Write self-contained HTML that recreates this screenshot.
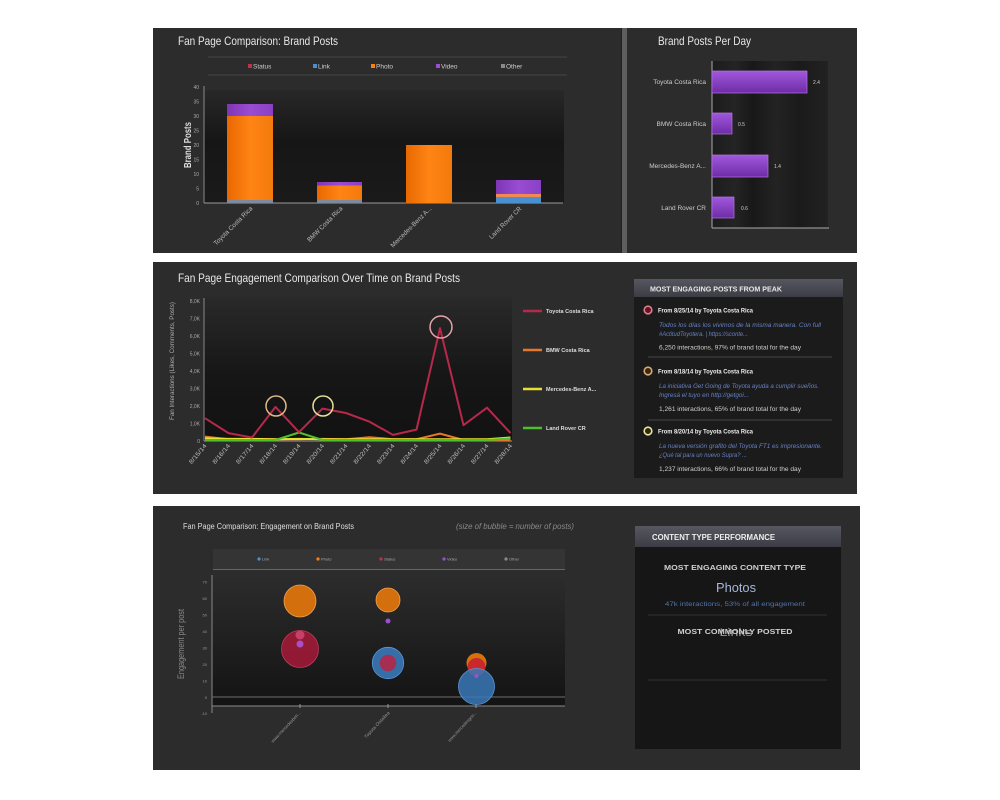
<!DOCTYPE html>
<html><head><meta charset="utf-8"><style>
html,body{margin:0;padding:0;background:#fff;}
svg{display:block;font-family:"Liberation Sans",sans-serif;}
</style></head><body>
<svg width="1000" height="800" viewBox="0 0 1000 800" xmlns="http://www.w3.org/2000/svg">
<defs>
<linearGradient id="plotg" x1="0" y1="0" x2="0" y2="1">
<stop offset="0" stop-color="#282828"/><stop offset="0.45" stop-color="#161616"/><stop offset="1" stop-color="#1a1a1a"/></linearGradient>
<linearGradient id="plotm" x1="0" y1="0" x2="0" y2="1">
<stop offset="0" stop-color="#2a2a2a"/><stop offset="0.55" stop-color="#161616"/><stop offset="1" stop-color="#121212"/></linearGradient>
<linearGradient id="plotb" x1="0" y1="0" x2="0" y2="1">
<stop offset="0" stop-color="#2c2c2c"/><stop offset="1" stop-color="#151515"/></linearGradient>
<linearGradient id="stripes" x1="0" y1="0" x2="1" y2="0">
<stop offset="0" stop-color="#1c1c1c"/><stop offset="0.2" stop-color="#242424"/><stop offset="0.35" stop-color="#181818"/><stop offset="0.55" stop-color="#232323"/><stop offset="0.75" stop-color="#1a1a1a"/><stop offset="1" stop-color="#222"/></linearGradient>
<linearGradient id="org" x1="0" y1="0" x2="1" y2="0">
<stop offset="0" stop-color="#e86800"/><stop offset="0.5" stop-color="#ff8414"/><stop offset="1" stop-color="#f27a0c"/></linearGradient>
<linearGradient id="pur" x1="0" y1="0" x2="1" y2="0">
<stop offset="0" stop-color="#7d36b4"/><stop offset="0.5" stop-color="#9a4cd2"/><stop offset="1" stop-color="#8a40c4"/></linearGradient>
<linearGradient id="purh" x1="0" y1="0" x2="0" y2="1">
<stop offset="0" stop-color="#a058dc"/><stop offset="1" stop-color="#6e2ca6"/></linearGradient>
<linearGradient id="hdr" x1="0" y1="0" x2="0" y2="1">
<stop offset="0" stop-color="#575761"/><stop offset="1" stop-color="#3c3c45"/></linearGradient>
</defs>

<rect width="1000" height="800" fill="#fff"/>

<!-- TOP PANEL -->
<rect x="153" y="28" width="704" height="225" fill="#2c2c2c"/>
<rect x="622" y="28" width="5" height="225" fill="#5e5e5e"/>
<rect x="621" y="28" width="1" height="225" fill="#222"/>

<text x="178" y="45" font-size="12" fill="#e8e8e8" textLength="160" lengthAdjust="spacingAndGlyphs">Fan Page Comparison: Brand Posts</text>
<line x1="208" y1="57" x2="567" y2="57" stroke="#444" stroke-width="1"/>
<line x1="208" y1="75" x2="567" y2="75" stroke="#444" stroke-width="1"/>
<g font-size="6.5" fill="#cfcfcf">
<rect x="248" y="64" width="4" height="4" fill="#c0304a"/><text x="253" y="68.5">Status</text>
<rect x="313" y="64" width="4" height="4" fill="#4a8fd0"/><text x="318" y="68.5">Link</text>
<rect x="371" y="64" width="4" height="4" fill="#ff7f0e"/><text x="376" y="68.5">Photo</text>
<rect x="436" y="64" width="4" height="4" fill="#9b4fd0"/><text x="441" y="68.5">Video</text>
<rect x="501" y="64" width="4" height="4" fill="#8a8a8a"/><text x="506" y="68.5">Other</text>
</g>
<rect x="204" y="90" width="360" height="113" fill="url(#plotg)"/>
<line x1="204" y1="86" x2="204" y2="203" stroke="#8a8a8a"/>
<line x1="204" y1="203" x2="563" y2="203" stroke="#9a9a9a"/>
<g font-size="5" fill="#aaa" text-anchor="end">
<text x="199" y="89">40</text><text x="199" y="103.5">35</text><text x="199" y="118">30</text><text x="199" y="132.5">25</text><text x="199" y="147">20</text><text x="199" y="161.5">15</text><text x="199" y="176">10</text><text x="199" y="190.5">5</text><text x="199" y="205">0</text>
</g>
<text transform="translate(191,145) rotate(-90)" font-size="10" font-weight="bold" fill="#ddd" text-anchor="middle" textLength="46" lengthAdjust="spacingAndGlyphs">Brand Posts</text>
<!-- bars -->
<rect x="227" y="200" width="46" height="3" fill="#7c8a9c"/>
<rect x="227" y="116" width="46" height="84" fill="url(#org)"/>
<rect x="227" y="104" width="46" height="12" fill="url(#pur)"/>
<rect x="317" y="200" width="45" height="3" fill="#7c8a9c"/>
<rect x="317" y="185.5" width="45" height="14.5" fill="url(#org)"/>
<rect x="317" y="182" width="45" height="3.5" fill="url(#pur)"/>
<rect x="406" y="145" width="46" height="58" fill="url(#org)"/>
<rect x="496" y="197" width="45" height="6" fill="#4a8fd0"/>
<rect x="496" y="194" width="45" height="3" fill="#f08a50"/>
<rect x="496" y="180" width="45" height="14" fill="url(#pur)"/>
<g font-size="6.5" fill="#bbb" text-anchor="end">
<text transform="translate(253,209) rotate(-45)" textLength="52" lengthAdjust="spacingAndGlyphs">Toyota Costa Rica</text>
<text transform="translate(343,209) rotate(-45)" textLength="47" lengthAdjust="spacingAndGlyphs">BMW Costa Rica</text>
<text transform="translate(432,209) rotate(-45)" textLength="55" lengthAdjust="spacingAndGlyphs">Mercedes-Benz A...</text>
<text transform="translate(522,209) rotate(-45)" textLength="43" lengthAdjust="spacingAndGlyphs">Land Rover CR</text>
</g>

<!-- top right -->
<text x="658" y="45" font-size="12" fill="#e8e8e8" textLength="93" lengthAdjust="spacingAndGlyphs">Brand Posts Per Day</text>
<rect x="712" y="61" width="116" height="167" fill="url(#stripes)"/>
<line x1="712" y1="61" x2="712" y2="228" stroke="#aaa"/>
<line x1="712" y1="228" x2="829" y2="228" stroke="#aaa"/>
<g fill="url(#purh)" stroke="#b572e6" stroke-width="0.7">
<rect x="712" y="71" width="95" height="22"/>
<rect x="712" y="113" width="20" height="21"/>
<rect x="712" y="155" width="56" height="22"/>
<rect x="712" y="197" width="22" height="21"/>
</g>
<g font-size="5" fill="#ccc">
<text x="813" y="84">2.4</text><text x="738" y="126">0.5</text><text x="774" y="168">1.4</text><text x="741" y="210">0.6</text>
</g>
<g font-size="6.5" fill="#ccc" text-anchor="end">
<text x="706" y="84">Toyota Costa Rica</text>
<text x="706" y="126">BMW Costa Rica</text>
<text x="706" y="168">Mercedes-Benz A...</text>
<text x="706" y="210">Land Rover CR</text>
</g>

<!-- MIDDLE PANEL -->
<rect x="153" y="262" width="704" height="232" fill="#2c2c2c"/>
<text x="178" y="282" font-size="12" fill="#e8e8e8" textLength="282" lengthAdjust="spacingAndGlyphs">Fan Page Engagement Comparison Over Time on Brand Posts</text>
<rect x="204" y="296" width="308" height="145" fill="url(#plotm)"/>
<line x1="204" y1="298" x2="204" y2="441" stroke="#888"/>
<line x1="204" y1="441" x2="512" y2="441" stroke="#999"/>
<g font-size="5" fill="#aaa" text-anchor="end">
<text x="200" y="303">8,0K</text><text x="200" y="320.5">7,0K</text><text x="200" y="338">6,0K</text><text x="200" y="355.5">5,0K</text><text x="200" y="373">4,0K</text><text x="200" y="390.5">3,0K</text><text x="200" y="408">2,0K</text><text x="200" y="425.5">1,0K</text><text x="200" y="443">0</text>
</g>
<text transform="translate(174,361) rotate(-90)" font-size="6.5" fill="#aaa" text-anchor="middle" textLength="118" lengthAdjust="spacingAndGlyphs">Fan Interactions (Likes, Comments, Posts)</text>
<g fill="none" stroke-width="2" stroke-linejoin="round">
<polyline stroke="#e8762a" points="205,436.6 228.5,439.2 252,439.2 275.5,439.2 299,439.2 322.5,438.9 346,439.2 369.5,437.2 393,439.2 416.5,439.2 440,433.6 463.5,440 487,440 510.5,440"/>
<polyline stroke="#e8e030" points="205,438.4 228.5,438.9 252,438.9 275.5,439.2 299,438.9 322.5,439.2 346,439.2 369.5,439.2 393,439.2 416.5,439.2 440,439.2 463.5,439.2 487,439.2 510.5,437.5"/>
<polyline stroke="#4fc02c" points="205,440 228.5,440 252,440 275.5,440 299,432.5 322.5,440 346,440 369.5,440 393,440 416.5,440 440,440 463.5,440 487,440 510.5,438.5"/>
<polyline stroke="#b8284a" points="205,418.2 228.5,433.1 252,437.5 275.5,406.9 299,432.2 322.5,408.6 346,413 369.5,421.7 393,434.9 416.5,429.6 440,328.1 463.5,425.2 487,407.7 510.5,433.1"/>
</g>
<circle cx="276" cy="406" r="10" fill="none" stroke="#e0b888" stroke-width="1.5"/>
<circle cx="323" cy="406" r="10" fill="none" stroke="#e6df9c" stroke-width="1.5"/>
<circle cx="441" cy="327" r="11" fill="none" stroke="#e6a4ac" stroke-width="1.5"/>
<g font-size="6" fill="#bbb" text-anchor="end">
<text transform="translate(207,446) rotate(-50)" textLength="24" lengthAdjust="spacingAndGlyphs">8/15/14</text>
<text transform="translate(230.5,446) rotate(-50)" textLength="24" lengthAdjust="spacingAndGlyphs">8/16/14</text>
<text transform="translate(254,446) rotate(-50)" textLength="24" lengthAdjust="spacingAndGlyphs">8/17/14</text>
<text transform="translate(277.5,446) rotate(-50)" textLength="24" lengthAdjust="spacingAndGlyphs">8/18/14</text>
<text transform="translate(301,446) rotate(-50)" textLength="24" lengthAdjust="spacingAndGlyphs">8/19/14</text>
<text transform="translate(324.5,446) rotate(-50)" textLength="24" lengthAdjust="spacingAndGlyphs">8/20/14</text>
<text transform="translate(348,446) rotate(-50)" textLength="24" lengthAdjust="spacingAndGlyphs">8/21/14</text>
<text transform="translate(371.5,446) rotate(-50)" textLength="24" lengthAdjust="spacingAndGlyphs">8/22/14</text>
<text transform="translate(395,446) rotate(-50)" textLength="24" lengthAdjust="spacingAndGlyphs">8/23/14</text>
<text transform="translate(418.5,446) rotate(-50)" textLength="24" lengthAdjust="spacingAndGlyphs">8/24/14</text>
<text transform="translate(442,446) rotate(-50)" textLength="24" lengthAdjust="spacingAndGlyphs">8/25/14</text>
<text transform="translate(465.5,446) rotate(-50)" textLength="24" lengthAdjust="spacingAndGlyphs">8/26/14</text>
<text transform="translate(489,446) rotate(-50)" textLength="24" lengthAdjust="spacingAndGlyphs">8/27/14</text>
<text transform="translate(512.5,446) rotate(-50)" textLength="24" lengthAdjust="spacingAndGlyphs">8/28/14</text>
</g>
<g stroke-width="2.5">
<line x1="523" y1="311" x2="542" y2="311" stroke="#b8284a"/>
<line x1="523" y1="350" x2="542" y2="350" stroke="#e8762a"/>
<line x1="523" y1="389" x2="542" y2="389" stroke="#e8e030"/>
<line x1="523" y1="428" x2="542" y2="428" stroke="#4fc02c"/>
</g>
<g font-size="5.5" font-weight="bold" fill="#ddd">
<text x="546" y="313">Toyota Costa Rica</text>
<text x="546" y="352">BMW Costa Rica</text>
<text x="546" y="391">Mercedes-Benz A...</text>
<text x="546" y="430">Land Rover CR</text>
</g>

<!-- middle right box -->
<rect x="634" y="279" width="209" height="199" fill="#1b1b1b"/>
<rect x="634" y="279" width="209" height="18" fill="url(#hdr)"/>
<text x="650" y="291.5" font-size="7.5" font-weight="bold" fill="#e8e8e8" textLength="132" lengthAdjust="spacingAndGlyphs">MOST ENGAGING POSTS FROM PEAK</text>
<circle cx="648" cy="310" r="3.8" fill="#6a1020" stroke="#d68090" stroke-width="1.6"/>
<circle cx="648" cy="371" r="3.8" fill="#3a2a10" stroke="#d8a878" stroke-width="1.6"/>
<circle cx="648" cy="431" r="3.8" fill="#2a2a10" stroke="#ece4a0" stroke-width="1.6"/>
<g font-size="6.5" font-weight="bold" fill="#eee">
<text x="658" y="312.5" textLength="95" lengthAdjust="spacingAndGlyphs">From 8/25/14 by Toyota Costa Rica</text>
<text x="658" y="373.5" textLength="95" lengthAdjust="spacingAndGlyphs">From 8/18/14 by Toyota Costa Rica</text>
<text x="658" y="433.5" textLength="95" lengthAdjust="spacingAndGlyphs">From 8/20/14 by Toyota Costa Rica</text>
</g>
<g font-size="6.5" font-style="italic" fill="#6682c4">
<text x="659" y="327" textLength="162" lengthAdjust="spacingAndGlyphs">Todos los días los vivimos de la misma manera. Con full</text>
<text x="659" y="336" textLength="89" lengthAdjust="spacingAndGlyphs">#ActitudToyotera. | https://sconte...</text>
<text x="659" y="388" textLength="160" lengthAdjust="spacingAndGlyphs">La iniciativa Get Going de Toyota ayuda a cumplir sueños.</text>
<text x="659" y="397" textLength="90" lengthAdjust="spacingAndGlyphs">Ingresá el tuyo en http://getgoi...</text>
<text x="659" y="448" textLength="163" lengthAdjust="spacingAndGlyphs">La nueva versión grafito del Toyota FT1 es impresionante.</text>
<text x="659" y="457" textLength="88" lengthAdjust="spacingAndGlyphs">¿Qué tal para un nuevo Supra? ...</text>
</g>
<g font-size="6.5" fill="#cfcfcf">
<text x="659" y="349.5" textLength="142" lengthAdjust="spacingAndGlyphs">6,250 interactions, 97% of brand total for the day</text>
<text x="659" y="411" textLength="142" lengthAdjust="spacingAndGlyphs">1,261 interactions, 65% of brand total for the day</text>
<text x="659" y="471" textLength="142" lengthAdjust="spacingAndGlyphs">1,237 interactions, 66% of brand total for the day</text>
</g>
<line x1="648" y1="357" x2="832" y2="357" stroke="#444"/>
<line x1="648" y1="420" x2="832" y2="420" stroke="#444"/>

<!-- BOTTOM PANEL -->
<rect x="153" y="506" width="707" height="264" fill="#2c2c2c"/>
<text x="183" y="529" font-size="8" fill="#ddd" textLength="171" lengthAdjust="spacingAndGlyphs">Fan Page Comparison: Engagement on Brand Posts</text>
<text x="456" y="529" font-size="8" font-style="italic" fill="#8a8a8a" textLength="118" lengthAdjust="spacingAndGlyphs">(size of bubble = number of posts)</text>
<rect x="213" y="549" width="352" height="21" fill="#343434"/>
<line x1="213" y1="569.5" x2="565" y2="569.5" stroke="#666"/>
<g font-size="4" fill="#aaa">
<circle cx="259" cy="559" r="1.6" fill="#4a8fd0"/><text x="262" y="560.5">Link</text>
<circle cx="318" cy="559" r="1.6" fill="#ff7f0e"/><text x="321" y="560.5">Photo</text>
<circle cx="381" cy="559" r="1.6" fill="#c0304a"/><text x="384" y="560.5">Status</text>
<circle cx="444" cy="559" r="1.6" fill="#9b4fd0"/><text x="447" y="560.5">Video</text>
<circle cx="506" cy="559" r="1.6" fill="#8a8a8a"/><text x="509" y="560.5">Other</text>
</g>
<rect x="212" y="575" width="353" height="122" fill="url(#plotb)"/>
<rect x="212" y="697" width="353" height="9" fill="#141414"/>
<line x1="212" y1="575" x2="212" y2="713" stroke="#888"/>
<line x1="212" y1="697" x2="565" y2="697" stroke="#6e6e6e"/>
<line x1="212" y1="706" x2="565" y2="706" stroke="#8a8a8a"/>
<g font-size="4" fill="#999" text-anchor="end">
<text x="207" y="583.5">70</text><text x="207" y="600">60</text><text x="207" y="616.5">50</text><text x="207" y="633">40</text><text x="207" y="649.5">30</text><text x="207" y="666">20</text><text x="207" y="682.5">10</text><text x="207" y="699">0</text><text x="207" y="715">-10</text>
</g>
<g stroke="#999"><line x1="300" y1="704" x2="300" y2="708"/><line x1="388" y1="704" x2="388" y2="708"/><line x1="476" y1="704" x2="476" y2="708"/></g>
<text transform="translate(184,644) rotate(-90)" font-size="9" fill="#888" text-anchor="middle" textLength="70" lengthAdjust="spacingAndGlyphs">Engagement per post</text>
<g font-size="4.5" fill="#999" text-anchor="end">
<text transform="translate(301,713) rotate(-47)" textLength="41" lengthAdjust="spacingAndGlyphs">www.mercedesben...</text>
<text transform="translate(390,713) rotate(-47)" textLength="35" lengthAdjust="spacingAndGlyphs">Toyota Ostallea</text>
<text transform="translate(477,713) rotate(-47)" textLength="40" lengthAdjust="spacingAndGlyphs">www.mercedesgoo...</text>
</g>
<!-- bubbles -->
<g>
<circle cx="300" cy="601" r="16" fill="#dc740c" fill-opacity="0.95" stroke="#f0a050" stroke-width="0.8"/>
<circle cx="300" cy="649" r="18.5" fill="#a01a36" fill-opacity="0.9" stroke="#c03a58" stroke-width="0.8"/>
<circle cx="300" cy="635" r="4.5" fill="#c8406a"/>
<circle cx="300" cy="644" r="3.5" fill="#a850c8"/>
<circle cx="388" cy="600" r="12" fill="#dc740c" fill-opacity="0.95" stroke="#f0a050" stroke-width="0.8"/>
<circle cx="388" cy="621" r="2.5" fill="#9b4fd0"/>
<circle cx="388" cy="663" r="15.7" fill="#3a78b8" fill-opacity="0.9" stroke="#5a98d8" stroke-width="0.8"/>
<circle cx="388" cy="663" r="8.3" fill="#b02848" fill-opacity="0.9"/>
<circle cx="476.5" cy="663" r="10" fill="#e0760c" fill-opacity="0.95"/>
<circle cx="476.5" cy="667" r="9" fill="#c82030" fill-opacity="0.9"/>
<circle cx="476.5" cy="686.5" r="18" fill="#3a78b8" fill-opacity="0.85" stroke="#5a98d8" stroke-width="0.8"/>
<circle cx="476.5" cy="676" r="2" fill="#a050c8"/>
</g>

<!-- bottom right box -->
<rect x="635" y="526" width="206" height="223" fill="#161616"/>
<rect x="635" y="526" width="206" height="21" fill="url(#hdr)"/>
<text x="652" y="540" font-size="8" font-weight="bold" fill="#eee" textLength="123" lengthAdjust="spacingAndGlyphs">CONTENT TYPE PERFORMANCE</text>
<text x="735" y="570" font-size="7.5" font-weight="bold" fill="#cfcfcf" text-anchor="middle" textLength="142" lengthAdjust="spacingAndGlyphs">MOST ENGAGING CONTENT TYPE</text>
<text x="736" y="592" font-size="13" fill="#a8b8d8" text-anchor="middle" textLength="40" lengthAdjust="spacingAndGlyphs">Photos</text>
<text x="735" y="606" font-size="6.5" fill="#5272aa" text-anchor="middle" textLength="140" lengthAdjust="spacingAndGlyphs">47k interactions, 53% of all engagement</text>
<line x1="648" y1="615" x2="827" y2="615" stroke="#333"/>
<text x="736" y="636" font-size="11" fill="#9a9a9a" text-anchor="middle" textLength="33" lengthAdjust="spacingAndGlyphs">Links</text>
<text x="735" y="634" font-size="7.5" font-weight="bold" fill="#cfcfcf" text-anchor="middle" textLength="115" lengthAdjust="spacingAndGlyphs">MOST COMMONLY POSTED</text>
<line x1="648" y1="680" x2="827" y2="680" stroke="#333"/>
</svg>
</body></html>
